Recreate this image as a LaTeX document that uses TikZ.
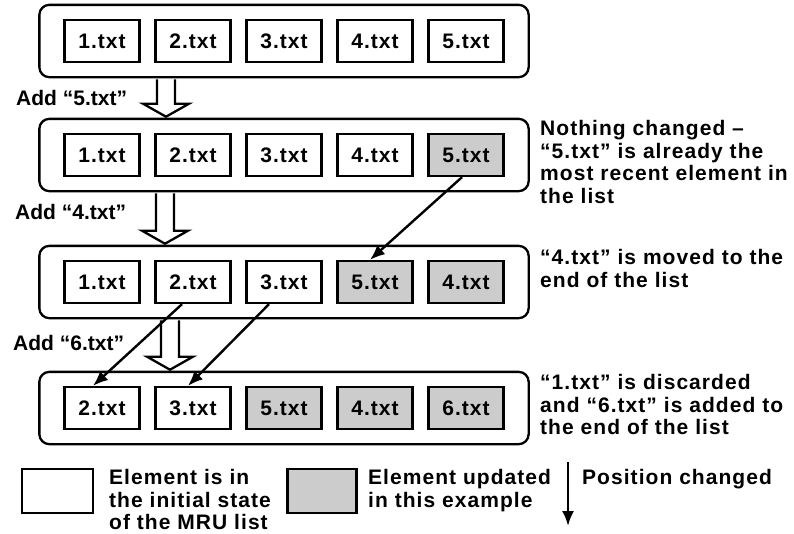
\documentclass[tikz,border=0pt]{standalone}
\usepackage{fontspec}
\setmainfont{Liberation Sans}
\newfontfamily\trk{Liberation Sans}[LetterSpace=5]
\usetikzlibrary{arrows.meta}
\usetikzlibrary{positioning}
\usetikzlibrary{fit}
\usetikzlibrary{calc}
\tikzset{file/.style = {draw, line width=2.3pt, minimum width=75pt, minimum height=42pt,
                        inner sep=0pt, font=\trk\bfseries\fontsize{21}{23}\selectfont}}
\tikzset{newfile/.style = {file, fill=black!20}}
\tikzset{mru/.style = {draw, line width=2.3pt, rounded corners=10pt, inner xsep=24pt, inner ysep=14pt}}
\tikzset{move/.style = {line width=2.4pt, -{Latex[length=15pt,width=12pt]}}}
\tikzset{hollow/.style = {draw, line width=2.3pt, fill=white}}
\tikzset{note/.style = {anchor=north west, align=left, inner sep=0pt,
                        font=\trk\bfseries\fontsize{21}{22.7}\selectfont}}
\tikzset{addlabel/.style = {anchor=west, inner sep=0pt, font=\bfseries\fontsize{21}{23}\selectfont}}

\begin{document}
\begin{tikzpicture}[x=1pt, y=-1pt]
	\useasboundingbox (0,0) rectangle (794,533);
	% initial list
	\node[file] (11) at (102,41) {1.txt};
	\node[file] (12) at (193,41) {2.txt};
	\node[file] (13) at (284,41) {3.txt};
	\node[file] (14) at (375,41) {4.txt};
	\node[file] (15) at (466,41) {5.txt};
	\node[mru, fit=(11)(15)] (1) {};
	% after adding 5.txt
	\node[file] (21) at (102,155) {1.txt};
	\node[file] (22) at (193,155) {2.txt};
	\node[file] (23) at (284,155) {3.txt};
	\node[file] (24) at (375,155) {4.txt};
	\node[newfile] (25) at (466,155) {5.txt};
	\node[mru, fit=(21)(25)] (2) {};
	% after adding 4.txt
	\node[file] (31) at (102,282) {1.txt};
	\node[file] (32) at (193,282) {2.txt};
	\node[file] (33) at (284,282) {3.txt};
	\node[newfile] (34) at (375,282) {5.txt};
	\node[newfile] (35) at (466,282) {4.txt};
	\node[mru, fit=(31)(35)] (3) {};
	% after adding 6.txt
	\node[file] (41) at (102,408) {2.txt};
	\node[file] (42) at (193,408) {3.txt};
	\node[newfile] (43) at (284,408) {5.txt};
	\node[newfile] (44) at (375,408) {4.txt};
	\node[newfile] (45) at (466,408) {6.txt};
	\node[mru, fit=(41)(45)] (4) {};

	\node[addlabel] (s1) at (16,98) {Add “5.txt”};
	\node[addlabel] (s2) at (15,212) {Add “4.txt”};
	\node[addlabel] (s3) at (13,343) {Add “6.txt”};

	\foreach \a/\b/\m in {1/2/166, 2/3/165, 3/4/170}
		\path[hollow] let \p1 = (\a.south), \p2 = (\b.north) in
			(\m-9,\y1-1pt) -- (\m-9,\y2+14pt) -- (\m-23,\y2+14pt) -- (\m,\y2+1pt)
			-- (\m+23,\y2+14pt) -- (\m+9,\y2+14pt) -- (\m+9,\y1-1pt);

	\draw[move] ([xshift=-4pt]25.south) to ([xshift=-5pt]34.north);
	\draw[move] ([xshift=-11pt]32.south) to ([xshift=-9pt]41.north);
	\draw[move] ([xshift=-15pt]33.south) to ([xshift=-5pt]42.north);

	\node[note] (n2) at (540,120) {Nothing changed –\\“5.txt” is already the\\most recent element in\\the list};
	\node[note] (n3) at (540,249) {“4.txt” is moved to the\\end of the list};
	\node[note] (n4) at (540,374) {“1.txt” is discarded\\and “6.txt” is added to\\the end of the list};

	% legend
	\node[file, minimum width=71pt, minimum height=44pt] (k1) at (57.5,491) {};
	\node[note] (t1) at (109,469) {Element is in\\the initial state\\of the MRU list};
	\node[newfile, minimum width=69pt, minimum height=44pt] (k2) at (322,491) {};
	\node[note] (t2) at (368,469) {Element updated\\in this example};
	\coordinate (k3) at (568,462);
	\coordinate (k4) at (568,526);
	\draw[move] (k3) to (k4);
	\node[note] (t3) at (582,469) {Position changed};
\end{tikzpicture}
\end{document}
